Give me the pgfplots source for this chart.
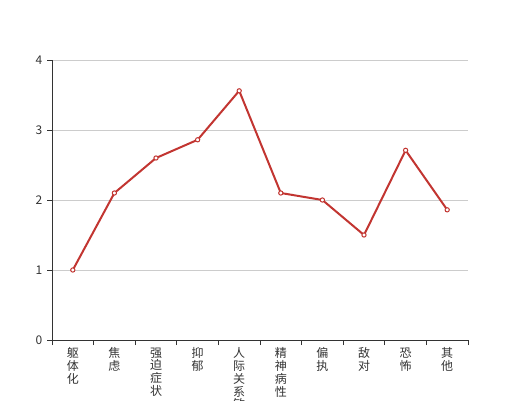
\documentclass[border=0pt]{standalone}
\usepackage{fontspec}
\setmainfont{Noto Sans CJK SC}
\usepackage{pgfplots}
\pgfplotsset{compat=1.18}
\definecolor{ecred}{HTML}{C23531}
\definecolor{axisgray}{HTML}{333333}
\definecolor{gridgray}{HTML}{CCCCCC}
\begin{document}
\begin{tikzpicture}
\useasboundingbox (0,0) rectangle (390pt,300pt);
\clip (0,0) rectangle (390pt,300pt);
\begin{axis}[
  at={(39pt,45pt)}, anchor=south west,
  scale only axis, width=312pt, height=210pt,
  xmin=-0.5, xmax=9.5, ymin=0, ymax=4,
  axis x line=bottom, axis y line=left,
  axis line style={-, axisgray, line width=0.75pt},
  xtick={0,...,9},
  xticklabels={{躯\\体\\化},{焦\\虑},{强\\迫\\症\\状},{抑\\郁},{人\\际\\关\\系\\敏\\感},{精\\神\\病\\性},{偏\\执},{敌\\对},{恐\\怖},{其\\他}},
  minor xtick={-0.5,0.5,...,9.5},
  ytick={0,1,2,3,4},
  tick align=outside,
  major tick length=3.75pt, minor tick length=3.75pt,
  major x tick style={draw=none},
  minor x tick style={axisgray, line width=0.75pt},
  major y tick style={axisgray, line width=0.75pt},
  ymajorgrids, grid style={gridgray, line width=0.75pt},
  xticklabel style={align=center, font=\fontsize{9}{9.6}\selectfont, text=axisgray, anchor=north, yshift=1.5pt},
  yticklabel style={font=\fontsize{9}{10}\selectfont, text=axisgray},
  /pgf/number format/assume math mode=true,
  clip=false,
]
\addplot[ecred, line width=1.5pt, mark=*, mark size=1.6pt,
  mark options={fill=white, draw=ecred, line width=0.75pt}]
  coordinates {(0,1.0) (1,2.1) (2,2.6) (3,2.86) (4,3.56) (5,2.1) (6,2.0) (7,1.5) (8,2.71) (9,1.86)};
\end{axis}
\end{tikzpicture}
\end{document}
